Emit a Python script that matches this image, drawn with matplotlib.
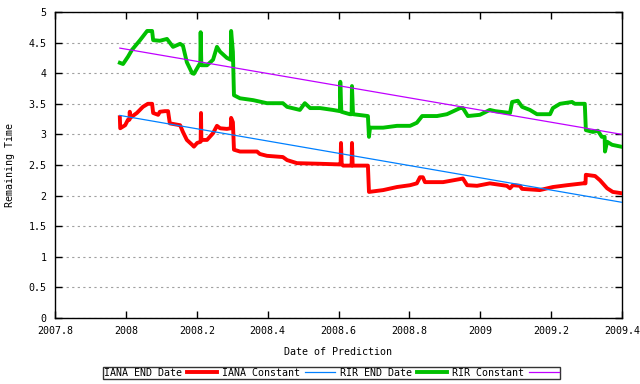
import matplotlib
matplotlib.use("Agg")

import matplotlib.pyplot as plt

# IANA END Date (red)
iana_x = [2007.983, 2007.984, 2007.998, 2008.006, 2008.010, 2008.011, 2008.012, 2008.031,
          2008.048, 2008.062, 2008.074, 2008.077, 2008.091, 2008.096, 2008.110, 2008.119,
          2008.124, 2008.153, 2008.161, 2008.172, 2008.187, 2008.192, 2008.201, 2008.211,
          2008.212, 2008.213, 2008.229, 2008.246, 2008.257, 2008.266, 2008.285, 2008.296,
          2008.297, 2008.302, 2008.305, 2008.322, 2008.370, 2008.378, 2008.398, 2008.443,
          2008.455, 2008.483, 2008.548, 2008.601, 2008.606, 2008.607, 2008.609, 2008.613,
          2008.632, 2008.637, 2008.638, 2008.640, 2008.683, 2008.686, 2008.726, 2008.765,
          2008.802, 2008.821, 2008.830, 2008.838, 2008.844, 2008.895, 2008.943, 2008.951,
          2008.963, 2008.991, 2009.027, 2009.075, 2009.084, 2009.092, 2009.112, 2009.118,
          2009.168, 2009.205, 2009.245, 2009.290, 2009.297, 2009.298, 2009.324, 2009.338,
          2009.358, 2009.374, 2009.397]
iana_y = [3.28, 3.10, 3.15, 3.24, 3.24, 3.37, 3.27, 3.35,
          3.45, 3.50, 3.50, 3.35, 3.32, 3.37, 3.38, 3.38,
          3.18, 3.15, 3.04, 2.91, 2.83, 2.80, 2.86, 2.88,
          3.35, 2.91, 2.91, 3.02, 3.14, 3.10, 3.09, 3.10,
          3.27, 3.20, 2.75, 2.72, 2.72, 2.68, 2.65, 2.63,
          2.58, 2.53, 2.52, 2.51, 2.51, 2.86, 2.52, 2.49,
          2.49, 2.49, 2.86, 2.49, 2.49, 2.06, 2.09, 2.14,
          2.17, 2.20, 2.30, 2.30, 2.22, 2.22, 2.27, 2.28,
          2.17, 2.16, 2.20, 2.16, 2.12, 2.17, 2.16, 2.11,
          2.09, 2.14, 2.17, 2.20, 2.20, 2.34, 2.32, 2.25,
          2.12, 2.06, 2.04]

# RIR END Date (green)
rir_x = [2007.983, 2007.992, 2008.006, 2008.017, 2008.040, 2008.060, 2008.074, 2008.077,
         2008.096, 2008.116, 2008.133, 2008.153, 2008.161, 2008.172, 2008.187, 2008.192,
         2008.201, 2008.210, 2008.211, 2008.213, 2008.229, 2008.246, 2008.257, 2008.266,
         2008.285, 2008.296, 2008.297, 2008.302, 2008.305, 2008.322, 2008.359, 2008.398,
         2008.443, 2008.455, 2008.491, 2008.505, 2008.520, 2008.548, 2008.584, 2008.604,
         2008.605, 2008.608, 2008.632, 2008.637, 2008.638, 2008.641, 2008.683, 2008.686,
         2008.689, 2008.726, 2008.765, 2008.802, 2008.821, 2008.836, 2008.878, 2008.906,
         2008.943, 2008.951, 2008.965, 2008.999, 2009.027, 2009.042, 2009.084, 2009.090,
         2009.106, 2009.118, 2009.140, 2009.160, 2009.197, 2009.205, 2009.225, 2009.259,
         2009.267, 2009.295, 2009.298, 2009.318, 2009.332, 2009.343, 2009.351, 2009.352,
         2009.358, 2009.372, 2009.397]
rir_y = [4.17, 4.15, 4.27, 4.38, 4.54, 4.69, 4.69, 4.54,
         4.53, 4.56, 4.43, 4.48, 4.45, 4.18, 4.00, 3.99,
         4.08, 4.17, 4.67, 4.13, 4.13, 4.22, 4.43, 4.35,
         4.25, 4.22, 4.69, 4.35, 3.64, 3.59, 3.56, 3.51,
         3.51, 3.45, 3.40, 3.51, 3.43, 3.43, 3.40, 3.38,
         3.86, 3.37, 3.33, 3.33, 3.79, 3.33, 3.30, 2.96,
         3.11, 3.11, 3.14, 3.14, 3.19, 3.30, 3.30, 3.33,
         3.43, 3.43, 3.30, 3.32, 3.40, 3.38, 3.35, 3.53,
         3.55, 3.45, 3.40, 3.33, 3.33, 3.43, 3.50, 3.53,
         3.50, 3.50, 3.07, 3.04, 3.06, 2.96, 2.96, 2.72,
         2.88, 2.83, 2.80]

# constant-rate lines
iana_const_x = [2007.983, 2009.4]
iana_const_y = [3.31, 1.89]
rir_const_x = [2007.983, 2009.4]
rir_const_y = [4.41, 3.00]

xticks = [2007.8, 2008.0, 2008.2, 2008.4, 2008.6, 2008.8, 2009.0, 2009.2, 2009.4]
xticklabels = ['2007.8', '2008', '2008.2', '2008.4', '2008.6', '2008.8', '2009', '2009.2', '2009.4']
yticks = [0, 0.5, 1, 1.5, 2, 2.5, 3, 3.5, 4, 4.5, 5]
yticklabels = ['0', '0.5', '1', '1.5', '2', '2.5', '3', '3.5', '4', '4.5', '5']

plt.rcParams['font.family'] = ['DejaVu Sans Mono']
plt.rcParams['font.size'] = 7.2

fig = plt.figure(figsize=(6.4, 3.84), dpi=100)
ax = fig.add_axes([55 / 640, 66 / 384, 567 / 640, 306 / 384])

l1, = ax.plot(iana_x, iana_y, color='#ff0000', lw=2.8, label='IANA END Date', zorder=3)
l2, = ax.plot(iana_const_x, iana_const_y, color='#0080ff', lw=0.9, label='IANA Constant', zorder=4)
l3, = ax.plot(rir_x, rir_y, color='#00c000', lw=2.8, label='RIR END Date', zorder=3)
l4, = ax.plot(rir_const_x, rir_const_y, color='#c000ff', lw=0.9, label='RIR Constant', zorder=4)

ax.set_xlim(2007.8, 2009.4)
ax.set_ylim(0, 5)
ax.set_xticks(xticks)
ax.set_xticklabels(xticklabels)
ax.set_yticks(yticks)
ax.set_yticklabels(yticklabels)
ax.tick_params(direction='in', length=5, width=1, top=True, right=True, pad=6, colors='black')
ax.yaxis.grid(True, color='#a0a0a0', linestyle=(0, (2, 3)), linewidth=0.8)
for s in ax.spines.values():
    s.set_linewidth(1)

ax.set_xlabel('Date of Prediction', labelpad=8)
ax.set_ylabel('Remaining Time', labelpad=10)

leg = fig.legend(handles=[l1, l2, l3, l4], loc='center', bbox_to_anchor=(331 / 640, 1 - 372.5 / 384),
                 ncol=4, markerfirst=False, frameon=True, fancybox=False, edgecolor='black',
                 handlelength=3.0, handletextpad=0.5, columnspacing=0.5, borderpad=0.1,
                 borderaxespad=0, fontsize=7.2)
leg.get_frame().set_linewidth(1)

plt.savefig('out.png', dpi=100)
